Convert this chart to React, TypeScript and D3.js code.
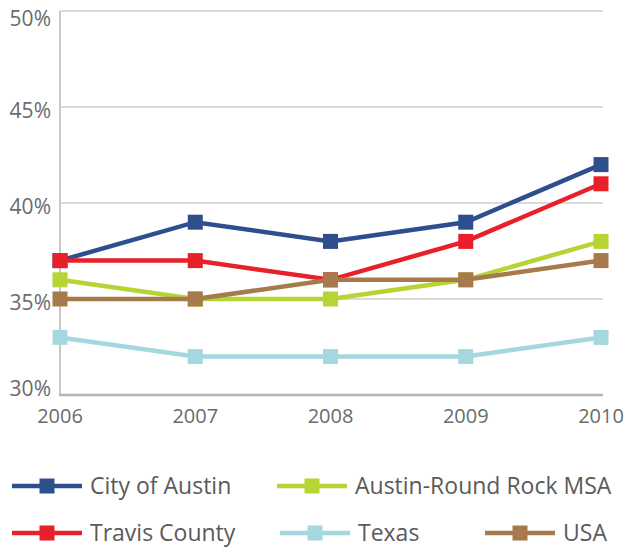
import React from "react";
import * as d3 from "d3";

const years = ["2006", "2007", "2008", "2009", "2010"];
const yTicks = [30, 35, 40, 45, 50];

const seriesNames = ["City of Austin", "Travis County", "Austin-Round Rock MSA", "Texas", "USA"];
const cityOfAustin = [37, 39, 38, 39, 42];
const travisCounty = [37, 37, 36, 38, 41];
const austinMSA = [36, 35, 35, 36, 38];
const texas = [33, 32, 32, 32, 33];
const usa = [35, 35, 36, 36, 37];
const colors = ["#2d4f8e", "#e8202a", "#b6d433", "#a5d7df", "#a77a4b"];

const seriesValues = [cityOfAustin, travisCounty, austinMSA, texas, usa];

// legend layout (positions are style, not data)
const legendPos = [
  { x: 12, y: 486 },
  { x: 12, y: 533 },
  { x: 277, y: 486 },
  { x: 280, y: 533 },
  { x: 485, y: 533 },
];

export default function App() {
  const W = 626, H = 550;
  const x = d3.scalePoint<string>().domain(years).range([60, 601]);
  const y = d3.scaleLinear().domain([30, 50]).range([395, 11]);
  const line = d3
    .line<number>()
    .x((_, i) => x(years[i]) as number)
    .y((d) => y(d));
  const font = "'Open Sans', 'DejaVu Sans', sans-serif";
  const ms = 15;
  const labelOffset = (t: number) => (t === 30 ? 1 : t === 50 ? 15 : 11);
  return (
    <svg width={W} height={H} style={{ position: "absolute", left: 0, top: 0, background: "#fff" }}>
      {yTicks.map((t) => (
        <g key={t}>
          {t !== 30 && (
            <line x1={60} x2={603} y1={y(t)} y2={y(t)} stroke="#cfcfcf" strokeWidth={1.5} />
          )}
          <text x={51} y={y(t) + labelOffset(t)} textAnchor="end" fontFamily={font} fontSize={21} fill="#6b6b6b">
            {t}%
          </text>
        </g>
      ))}
      <line x1={60} x2={60} y1={y(50)} y2={y(30)} stroke="#c8c8c8" strokeWidth={2} />
      <line x1={59} x2={603} y1={y(30)} y2={y(30)} stroke="#b5b5b5" strokeWidth={2.5} />
      {years.map((yr) => (
        <text key={yr} x={x(yr)} y={423} textAnchor="middle" fontFamily={font} fontSize={20} fill="#6b6b6b">
          {yr}
        </text>
      ))}
      {seriesValues.map((vals, si) => (
        <g key={si}>
          <path d={line(vals) || ""} fill="none" stroke={colors[si]} strokeWidth={4.5} />
          {vals.map((v, i) => (
            <rect
              key={i}
              x={(x(years[i]) as number) - ms / 2}
              y={y(v) - ms / 2}
              width={ms}
              height={ms}
              fill={colors[si]}
            />
          ))}
        </g>
      ))}
      {seriesNames.map((name, si) => {
        const p = legendPos[si];
        return (
          <g key={name}>
            <line x1={p.x} x2={p.x + 70} y1={p.y} y2={p.y} stroke={colors[si]} strokeWidth={4.5} />
            <rect x={p.x + 35 - 7.5} y={p.y - 7.5} width={15} height={15} fill={colors[si]} />
            <text x={p.x + 78} y={p.y + 8} fontFamily={font} fontSize={23} fill="#5a5a5a">
              {name}
            </text>
          </g>
        );
      })}
    </svg>
  );
}
